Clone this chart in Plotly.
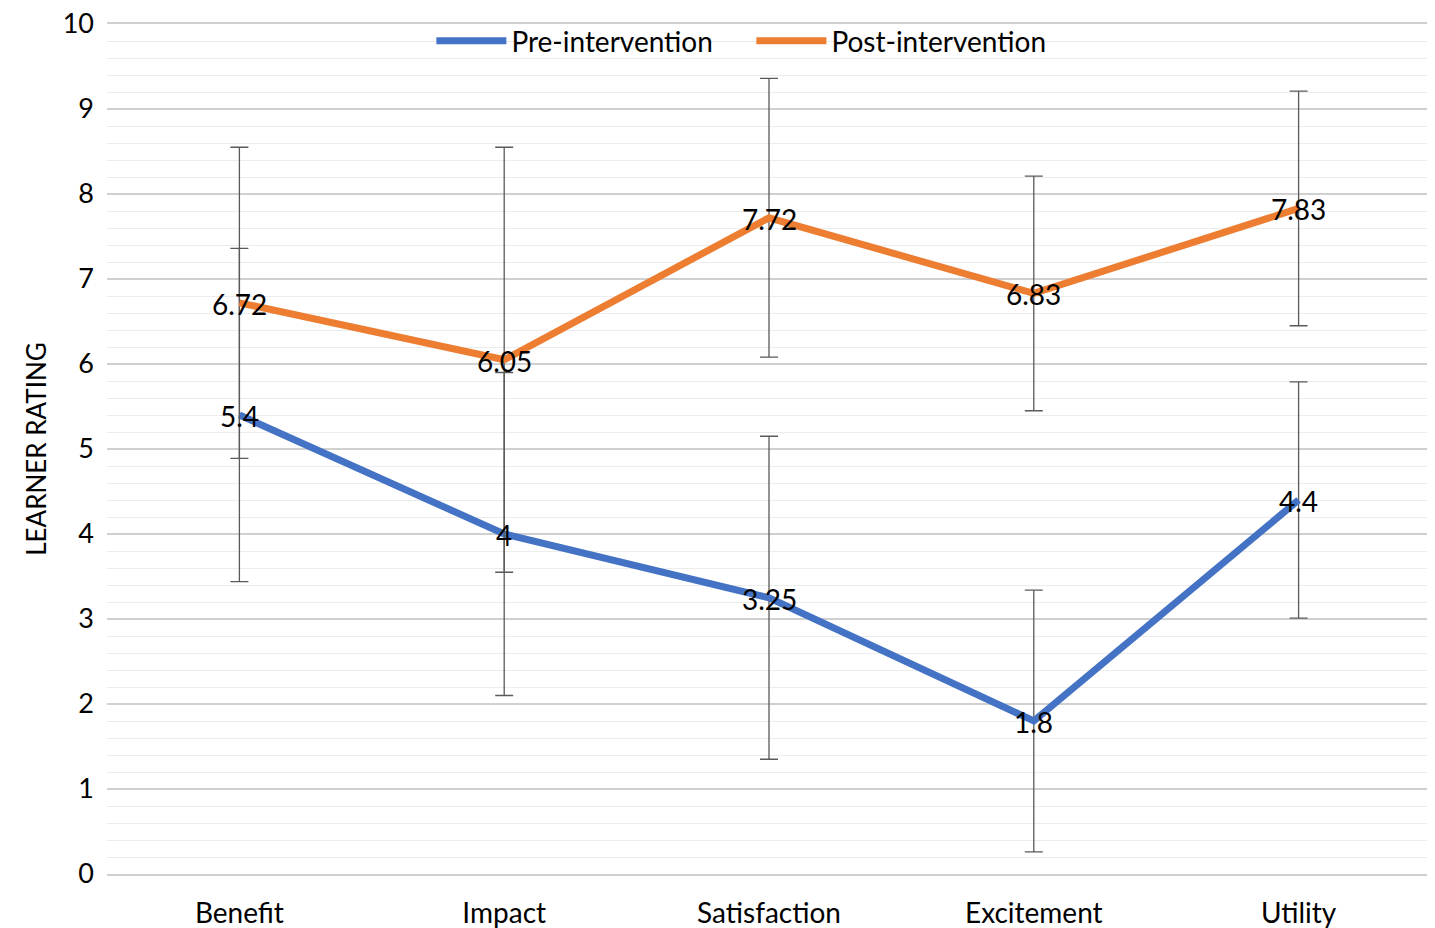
import plotly.graph_objects as go

categories = ["Benefit", "Impact", "Satisfaction", "Excitement", "Utility"]
pre_values = [5.4, 4.0, 3.25, 1.8, 4.4]
pre_errors = [1.96, 1.9, 1.9, 1.54, 1.39]
post_values = [6.72, 6.05, 7.72, 6.83, 7.83]
post_errors = [1.83, 2.5, 1.64, 1.38, 1.38]
pre_labels = ["5.4", "4", "3.25", "1.8", "4.4"]
post_labels = ["6.72", "6.05", "7.72", "6.83", "7.83"]

FONT = "Lato, 'Open Sans', sans-serif"
err_style = dict(type="data", symmetric=True, color="#5a5a5a", thickness=1.3, width=9)

fig = go.Figure()
fig.add_trace(go.Scatter(
    x=categories, y=pre_values, name="Pre-intervention", mode="lines",
    line=dict(color="#4472C4", width=7),
    error_y=dict(array=pre_errors, **err_style),
))
fig.add_trace(go.Scatter(
    x=categories, y=post_values, name="Post-intervention", mode="lines",
    line=dict(color="#ED7D31", width=7),
    error_y=dict(array=post_errors, **err_style),
))

# data labels centred on the points
for xs, ys, labels in [(categories, pre_values, pre_labels), (categories, post_values, post_labels)]:
    for xv, yv, lab in zip(xs, ys, labels):
        fig.add_annotation(x=xv, y=yv, text=lab, showarrow=False,
                           xanchor="center", yanchor="middle", yshift=-1,
                           font=dict(size=28, color="#000000", family=FONT))

fig.update_layout(
    width=1435, height=928,
    margin=dict(l=99, r=12, t=16, b=62, autoexpand=False),
    paper_bgcolor="white", plot_bgcolor="white",
    font=dict(family=FONT, size=28, color="#000000"),
    showlegend=True,
    legend=dict(orientation="h", x=0.245, xanchor="left", y=0.98, yanchor="middle",
                font=dict(size=28, family=FONT), bgcolor="rgba(255,255,255,0)",
                itemwidth=70, entrywidth=235),
    xaxis=dict(range=[-0.5, 4.5], showgrid=False, zeroline=False,
               showline=True, linecolor="#d0d0d0", linewidth=1.5, mirror=True,
               ticks="", automargin=False, ticklabelstandoff=14,
               ticklabeloverflow="allow",
               tickfont=dict(size=28, family=FONT)),
    yaxis=dict(range=[0, 10], dtick=1, showgrid=True, gridcolor="#d0d0d0", gridwidth=1.5,
               zeroline=False, showline=False, ticks="", automargin=False,
               ticklabeloverflow="allow",
               tickfont=dict(size=27, family=FONT), ticklabelstandoff=12,
               minor=dict(dtick=0.2, showgrid=True, gridcolor="#ececec", gridwidth=1),
               title=dict(text="LEARNER RATING", font=dict(size=26, family=FONT), standoff=8)),
)

fig.write_html("out.html")
